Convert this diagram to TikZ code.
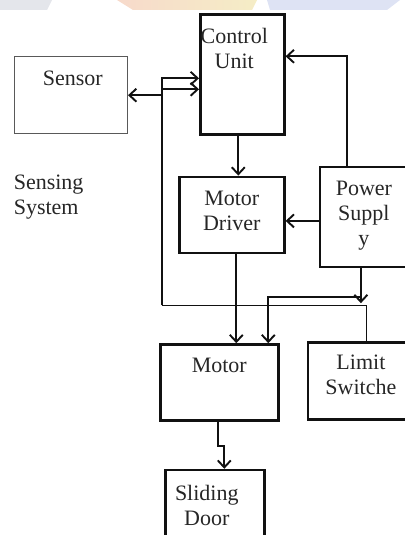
\documentclass[tikz,border=0pt]{standalone}
\usepackage{fontspec}
\setmainfont{Liberation Serif}
\usetikzlibrary{arrows.meta, positioning, calc}
\definecolor{wmgray}{HTML}{E4E6EB}
\definecolor{wmblue}{HTML}{DEE3F4}
\definecolor{wmpeach}{HTML}{F7DACB}
\definecolor{wmyellow}{HTML}{F5EDC6}
\definecolor{boxink}{HTML}{111111}

\begin{document}
\begin{tikzpicture}[x=1pt, y=-1pt,
        box/.style={draw=boxink, line width=2.6pt, inner sep=0pt},
        sensebox/.style={draw=black!65, line width=1.4pt, inner sep=0pt},
        boxtext/.style={font=\fontsize{22}{25}\selectfont, align=center, inner sep=0pt, text=black!85},
        arrow/.style={-{Straight Barb[length=7pt,width=13pt]}, line width=1.9pt, boxink},
        dblarrow/.style={{Straight Barb[length=7pt,width=13pt]}-{Straight Barb[length=7pt,width=13pt]}, line width=1.9pt, boxink},
        feedline/.style={line width=1.1pt, boxink}
    ]
        \useasboundingbox (0,0) rectangle (404,535);
        % faded banner at the top edge
        \fill[wmgray] (0,0) -- (52,0) -- (47,10) -- (0,10) -- cycle;
        \shade[left color=wmpeach, right color=wmyellow] (117,0) -- (257,0) -- (252,10) -- (133,10) -- cycle;
        \fill[wmblue] (267,0) -- (400,0) -- (387,10) -- (270,10) -- cycle;

        \node (cu) [box, minimum width=84pt, minimum height=120pt, anchor=north west] at (199,13) {};
        \node (sensor) [sensebox, minimum width=113pt, minimum height=77pt, below left=43pt and 71pt of cu.north west] {};
        \node (md) [box, minimum width=105pt, minimum height=76pt, below=40pt of cu.south east, anchor=north east] {};
        \node (ps) [box, minimum width=94pt, minimum height=100pt, right=33pt of md.north east, anchor=north west, yshift=10pt] {};
        \node (motor) [box, minimum width=118pt, minimum height=76pt, below left=89pt and 19pt of md.south west, anchor=north west] {};
        \node (ls) [box, minimum width=112pt, minimum height=77pt, right=27pt of motor.north east, anchor=north west, yshift=2pt] {};
        \node (door) [box, minimum width=99pt, minimum height=95pt, below=47pt of motor.south west, anchor=north west, xshift=5pt] {};

        \node (cuText) [boxtext, below=15pt of cu.north, xshift=-8pt] {Control\\Unit};
        \node (sensorText) [boxtext, below=15pt of sensor.north, xshift=2pt] {Sensor};
        \node (mdText) [boxtext, below=15pt of md.north] {Motor\\Driver};
        \node (psText) [boxtext, below=15pt of ps.north, xshift=-3pt] {Power\\Suppl\\y};
        \node (motorText) [boxtext, below=15pt of motor.north] {Motor};
        \node (lsText) [boxtext, below=14pt of ls.north, xshift=-3pt] {Limit\\Switche};
        \node (doorText) [boxtext, below=16pt of door.north, xshift=-8pt] {Sliding\\Door};
        \node (senseText) [boxtext, align=left, below=40pt of sensor.south west, anchor=north west] {Sensing\\System};

        \coordinate (jct) at ([xshift=-37pt, yshift=-15pt]cu.west);
        \coordinate (loop) at ([yshift=-216pt]jct);
        \coordinate (split) at ([xshift=-6pt, yshift=-35pt]ps.south);

        \draw [arrow] ([xshift=-4pt]cu.south) -- ([xshift=-4pt]cu.south |- md.north);
        \draw [arrow] ([xshift=-20pt]ps.north) |- ([yshift=18pt]cu.east);
        \draw [arrow] ([yshift=-4pt]ps.west) -- ([yshift=-4pt]ps.west -| md.east);
        \draw [dblarrow] (sensor.east) -| (jct) -- (jct -| cu.west);
        \draw [feedline] ([xshift=3pt]ls.north) |- (loop);
        \draw [arrow] (loop) |- ([yshift=-4pt]cu.west);
        \draw [arrow] ([xshift=-6pt]ps.south) -- (split);
        \draw [arrow] ([yshift=6pt]split) -| ([xshift=49pt]motor.north);
        \draw [arrow] ([xshift=4.5pt]md.south) -- ([xshift=4.5pt]md.south |- motor.north);
        \draw [arrow] ([xshift=-1pt]motor.south) -- ++(0,24) -| ([xshift=9.5pt]door.north);
    \end{tikzpicture}
\end{document}
